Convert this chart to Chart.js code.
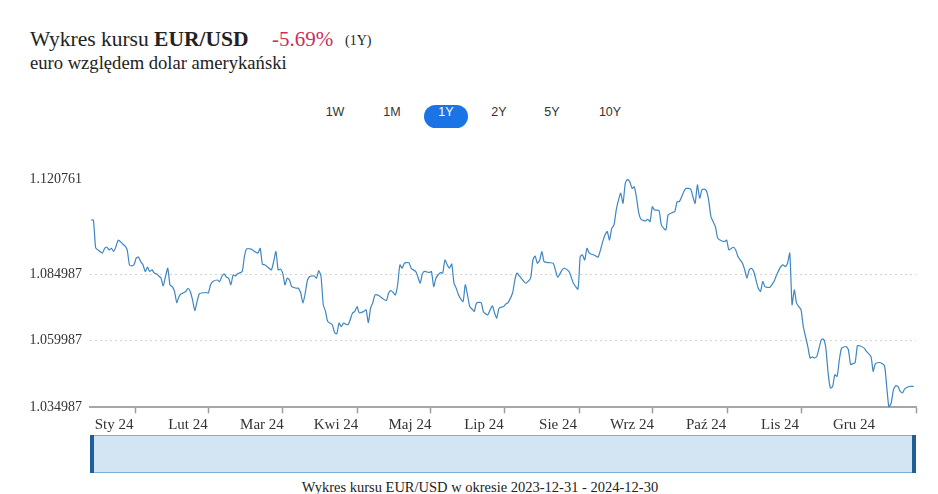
<!DOCTYPE html>
<html lang="pl">
  <head>
    <meta charset="UTF-8" />
    <title>Wykres kursu EUR/USD</title>
    <script src="https://cdn.jsdelivr.net/npm/chart.js@4.4.1/dist/chart.umd.min.js"></script>
    <style>
      body {
        margin: 0;
        width: 938px;
        height: 494px;
        position: relative;
        overflow: hidden;
        background: #fff;
        color: #222;
        font-family: "Liberation Serif", serif;
      }
      .title {
        position: absolute;
        left: 30px;
        top: 29px;
        font-size: 21.5px;
        line-height: 21px;
        white-space: nowrap;
      }
      .chg {
        position: absolute;
        left: 272px;
        top: 29px;
        font-size: 21px;
        line-height: 21px;
        color: #c9305a;
      }
      .per {
        position: absolute;
        left: 345px;
        top: 34px;
        font-size: 14px;
        line-height: 14px;
      }
      .sub {
        position: absolute;
        left: 30px;
        top: 54px;
        font-size: 18.6px;
        line-height: 18px;
        white-space: nowrap;
      }
      .rng {
        position: absolute;
        top: 105px;
        width: 44px;
        height: 23px;
        line-height: 23px;
        text-align: center;
        font: 12.5px "Liberation Sans", Arial, sans-serif;
        color: #333;
      }
      .rng.on {
        background: #1b74e6;
        color: #fff;
        border-radius: 12px;
      }
      .chart-box {
        position: absolute;
        left: 0;
        top: 160px;
        width: 938px;
        height: 275px;
      }
      .nav {
        position: absolute;
        left: 90px;
        top: 435px;
        width: 826px;
        height: 38px;
        box-sizing: border-box;
        background: #d3e4f2;
        border: 1px solid #7fb0da;
      }
      .nav .h {
        position: absolute;
        top: -1px;
        bottom: -1px;
        width: 4px;
        background: #1f5f98;
      }
      .cap {
        position: absolute;
        left: 0;
        top: 480px;
        width: 960px;
        text-align: center;
        font-size: 14.5px;
        line-height: 14px;
        color: #222;
      }
    </style>
  </head>
  <body>
    <div class="title">Wykres kursu <b>EUR/USD</b></div>
    <div class="chg">-5.69%</div>
    <div class="per">(1Y)</div>
    <div class="sub">euro względem dolar amerykański</div>

    <div class="rng" style="left: 313px">1W</div>
    <div class="rng" style="left: 370px">1M</div>
    <div class="rng on" style="left: 424px">1Y</div>
    <div class="rng" style="left: 477px">2Y</div>
    <div class="rng" style="left: 530px">5Y</div>
    <div class="rng" style="left: 588px">10Y</div>

    <div class="chart-box"><canvas id="fxChart"></canvas></div>

    <div class="nav">
      <div class="h" style="left: -1px"></div>
      <div class="h" style="right: -1px"></div>
    </div>
    <div class="cap">Wykres kursu EUR/USD w okresie 2023-12-31 - 2024-12-30</div>

    <script>
      // etykiety osi X i ich pozycje (dzien od 2023-12-31)
      const monthLabels = ["Sty 24", "Lut 24", "Mar 24", "Kwi 24", "Maj 24", "Lip 24", "Sie 24", "Wrz 24", "Paź 24", "Lis 24", "Gru 24"];
      const monthTicks = [19.5, 52.3, 85.1, 118, 150.8, 183.6, 216.5, 249.3, 282.2, 315, 347.8];
      const yTicks = [1.034987, 1.059987, 1.084987, 1.120761];

      // kurs EUR/USD
      const days = [
        0, 1, 2, 3, 5, 6, 7, 8, 9, 10, 11, 12, 13, 14, 15, 16, 17, 18, 19, 20, 21, 22, 23, 24, 25, 26, 27, 28, 29, 30,
        31, 32, 33, 34, 35, 36, 37, 38, 39, 40, 42, 43, 44, 45, 46, 47, 48, 49, 51, 52, 53, 54, 56, 57, 58, 59, 60, 61,
        62, 63, 64, 65, 67, 68, 69, 71, 72, 74, 75, 76, 77, 79, 80, 81, 82, 83, 84, 85, 86, 87, 88, 89, 91, 92, 93, 94,
        95, 96, 97, 98, 99, 100, 101, 102, 103, 104, 105, 107, 108, 109, 110, 111, 112, 114, 116, 117, 118, 119, 121,
        122, 123, 124, 125, 126, 128, 129, 131, 132, 133, 134, 135, 136, 137, 138, 139, 141, 142, 144, 145, 146, 147,
        148, 150, 151, 152, 153, 155, 156, 157, 158, 159, 160, 161, 162, 163, 165, 166, 167, 168, 169, 170, 171, 173,
        174, 175, 176, 178, 179, 180, 181, 183, 184, 185, 187, 188, 189, 190, 192, 193, 195, 196, 197, 198, 199, 200,
        201, 203, 205, 206, 207, 209, 210, 212, 213, 214, 216, 217, 218, 219, 220, 221, 223, 224, 225, 227, 228, 229,
        230, 231, 232, 233, 234, 235, 236, 237, 238, 239, 240, 241, 242, 243, 244, 246, 247, 248, 249, 250, 252, 253,
        255, 256, 258, 259, 260, 261, 263, 264, 266, 267, 268, 269, 270, 271, 272, 273, 274, 275, 276, 277, 278, 279,
        281, 282, 283, 285, 286, 287, 289, 290, 291, 292, 293, 294, 295, 296, 297, 298, 299, 301, 302, 303, 304, 306,
        307, 308, 309, 310, 311, 312, 313, 314, 315, 316, 318, 319, 320, 321, 322, 324, 325, 326, 327, 328, 329, 330,
        331, 332, 333, 335, 336, 337, 338, 339, 340, 341, 343, 344, 346, 347, 348, 350, 352, 353, 354, 355, 356, 357,
        358, 359, 360, 361, 363, 365,
      ];
      const rates = [
        1.1053, 1.1053, 1.0949, 1.0941, 1.0929, 1.0947, 1.0951, 1.0941, 1.0947, 1.0935, 1.0953, 1.0978, 1.0972, 1.0963,
        1.0956, 1.0941, 1.0885, 1.0881, 1.0885, 1.091, 1.0914, 1.0897, 1.0885, 1.086, 1.0876, 1.086, 1.0866, 1.0854,
        1.0851, 1.0843, 1.0835, 1.0806, 1.0841, 1.0872, 1.081, 1.0803, 1.0785, 1.0743, 1.0766, 1.0776, 1.0785, 1.0797,
        1.0785, 1.0753, 1.0713, 1.0747, 1.0776, 1.0779, 1.0781, 1.0779, 1.081, 1.0822, 1.0828, 1.0822, 1.0841, 1.0851,
        1.0839, 1.0835, 1.081, 1.0847, 1.0843, 1.0851, 1.086, 1.0916, 1.0945, 1.0944, 1.0938, 1.0929, 1.0947, 1.0887,
        1.0885, 1.0872, 1.0866, 1.0897, 1.0935, 1.0866, 1.0869, 1.0854, 1.081, 1.0835, 1.0828, 1.0803, 1.0797, 1.0797,
        1.0779, 1.0741, 1.0779, 1.0828, 1.0841, 1.0843, 1.0843, 1.0835, 1.0863, 1.0841, 1.0735, 1.071, 1.0672, 1.066,
        1.0631, 1.0626, 1.0666, 1.0653, 1.0666, 1.066, 1.0704, 1.071, 1.0728, 1.0704, 1.071, 1.0716, 1.0668, 1.0722,
        1.0743, 1.0772, 1.0768, 1.076, 1.0751, 1.0779, 1.0788, 1.0781, 1.0772, 1.081, 1.0885, 1.0872, 1.0891, 1.0893,
        1.0872, 1.086, 1.0839, 1.0816, 1.0851, 1.086, 1.0856, 1.086, 1.0803, 1.0835, 1.0856, 1.0854, 1.0903, 1.0885,
        1.0872, 1.0888, 1.0816, 1.0797, 1.0772, 1.0747, 1.081, 1.0772, 1.0728, 1.0719, 1.071, 1.0741, 1.0743, 1.071,
        1.0701, 1.0697, 1.0731, 1.0704, 1.0685, 1.0722, 1.0728, 1.0738, 1.0743, 1.0779, 1.0828, 1.0854, 1.0843, 1.0822,
        1.0816, 1.0835, 1.0903, 1.0918, 1.0891, 1.0901, 1.0935, 1.0897, 1.0893, 1.0891, 1.0866, 1.0839, 1.0866, 1.0872,
        1.086, 1.0839, 1.0816, 1.0794, 1.0916, 1.0922, 1.0903, 1.0947, 1.0929, 1.0922, 1.0918, 1.0914, 1.0972, 1.0997,
        1.101, 1.0978, 1.1022, 1.1035, 1.1091, 1.1128, 1.1154, 1.1116, 1.1191, 1.1206, 1.1197, 1.1172, 1.1178, 1.1136,
        1.1079, 1.1056, 1.105, 1.1056, 1.1047, 1.1103, 1.1091, 1.1088, 1.1035, 1.1016, 1.1072, 1.1082, 1.1085, 1.1122,
        1.1122, 1.116, 1.1172, 1.1169, 1.1141, 1.1116, 1.1185, 1.1135, 1.1166, 1.1169, 1.1163, 1.1128, 1.1066, 1.1047,
        1.1028, 1.0985, 1.0978, 1.0972, 1.0978, 1.0941, 1.0951, 1.0941, 1.0916, 1.0891, 1.0866, 1.0835, 1.0866, 1.0872,
        1.086, 1.0828, 1.0797, 1.0785, 1.0822, 1.0803, 1.08, 1.081, 1.0822, 1.0844, 1.0878, 1.0885, 1.0878, 1.0891,
        1.0929, 1.0735, 1.0791, 1.0741, 1.0728, 1.0716, 1.0653, 1.0578, 1.0535, 1.0539, 1.0535, 1.0541, 1.0604, 1.0606,
        1.0572, 1.0479, 1.0422, 1.0428, 1.0472, 1.0466, 1.0529, 1.0572, 1.0578, 1.0566, 1.051, 1.0514, 1.0518, 1.0581,
        1.0581, 1.0572, 1.056, 1.0541, 1.0485, 1.0514, 1.0518, 1.0506, 1.0428, 1.035, 1.0366, 1.0416, 1.0431, 1.0428,
        1.041, 1.0404, 1.0419, 1.0428, 1.0428,
      ];

      const points = days.map(function (d, i) {
        return { x: d, y: rates[i] };
      });

      const ctx = document.querySelector("#fxChart").getContext("2d");
      const serif = "'Liberation Serif', serif";

      new Chart(ctx, {
        type: "line",
        data: {
          datasets: [
            {
              label: "EUR/USD",
              data: points,
              borderColor: "#3e86c1",
              borderWidth: 1.2,
              pointRadius: 0,
              tension: 0.2,
              fill: false,
            },
          ],
        },
        options: {
          responsive: true,
          maintainAspectRatio: false,
          animation: false,
          layout: { padding: { top: 18.9, right: 22, left: 0, bottom: 0 } },
          plugins: {
            legend: { display: false },
            tooltip: { enabled: false },
          },
          scales: {
            x: {
              type: "linear",
              min: -0.5,
              max: 366,
              afterBuildTicks: function (axis) {
                axis.ticks = monthTicks.concat([366]).map(function (v) {
                  return { value: v };
                });
              },
              afterFit: function (axis) {
                axis.height = 27.7;
              },
              grid: {
                drawOnChartArea: false,
                drawTicks: true,
                tickLength: 6,
                tickWidth: 1.5,
                tickColor: function (c) {
                  return c.index === 10 ? "rgba(0,0,0,0)" : "#9c9c9c";
                },
              },
              border: { display: true, color: "#a6a6a6", width: 2 },
              ticks: {
                autoSkip: false,
                maxRotation: 0,
                labelOffset: -21,
                padding: 3,
                color: "#333",
                font: { family: serif, size: 15 },
                callback: function (v, i) {
                  return monthLabels[i] || "";
                },
              },
            },
            y: {
              min: 1.034987,
              max: 1.120761,
              afterBuildTicks: function (axis) {
                axis.ticks = yTicks.map(function (v) {
                  return { value: v };
                });
              },
              afterFit: function (axis) {
                axis.width = 90;
              },
              grid: {
                drawTicks: false,
                lineWidth: 1,
                color: function (c) {
                  return c.index === 1 || c.index === 2 ? "#d4d4d4" : "rgba(0,0,0,0)";
                },
              },
              border: { display: false, dash: [2, 3] },
              ticks: {
                padding: 8,
                color: "#333",
                font: { family: serif, size: 14 },
                callback: function (v) {
                  return v.toFixed(6);
                },
              },
            },
          },
        },
      });
    </script>
  </body>
</html>
